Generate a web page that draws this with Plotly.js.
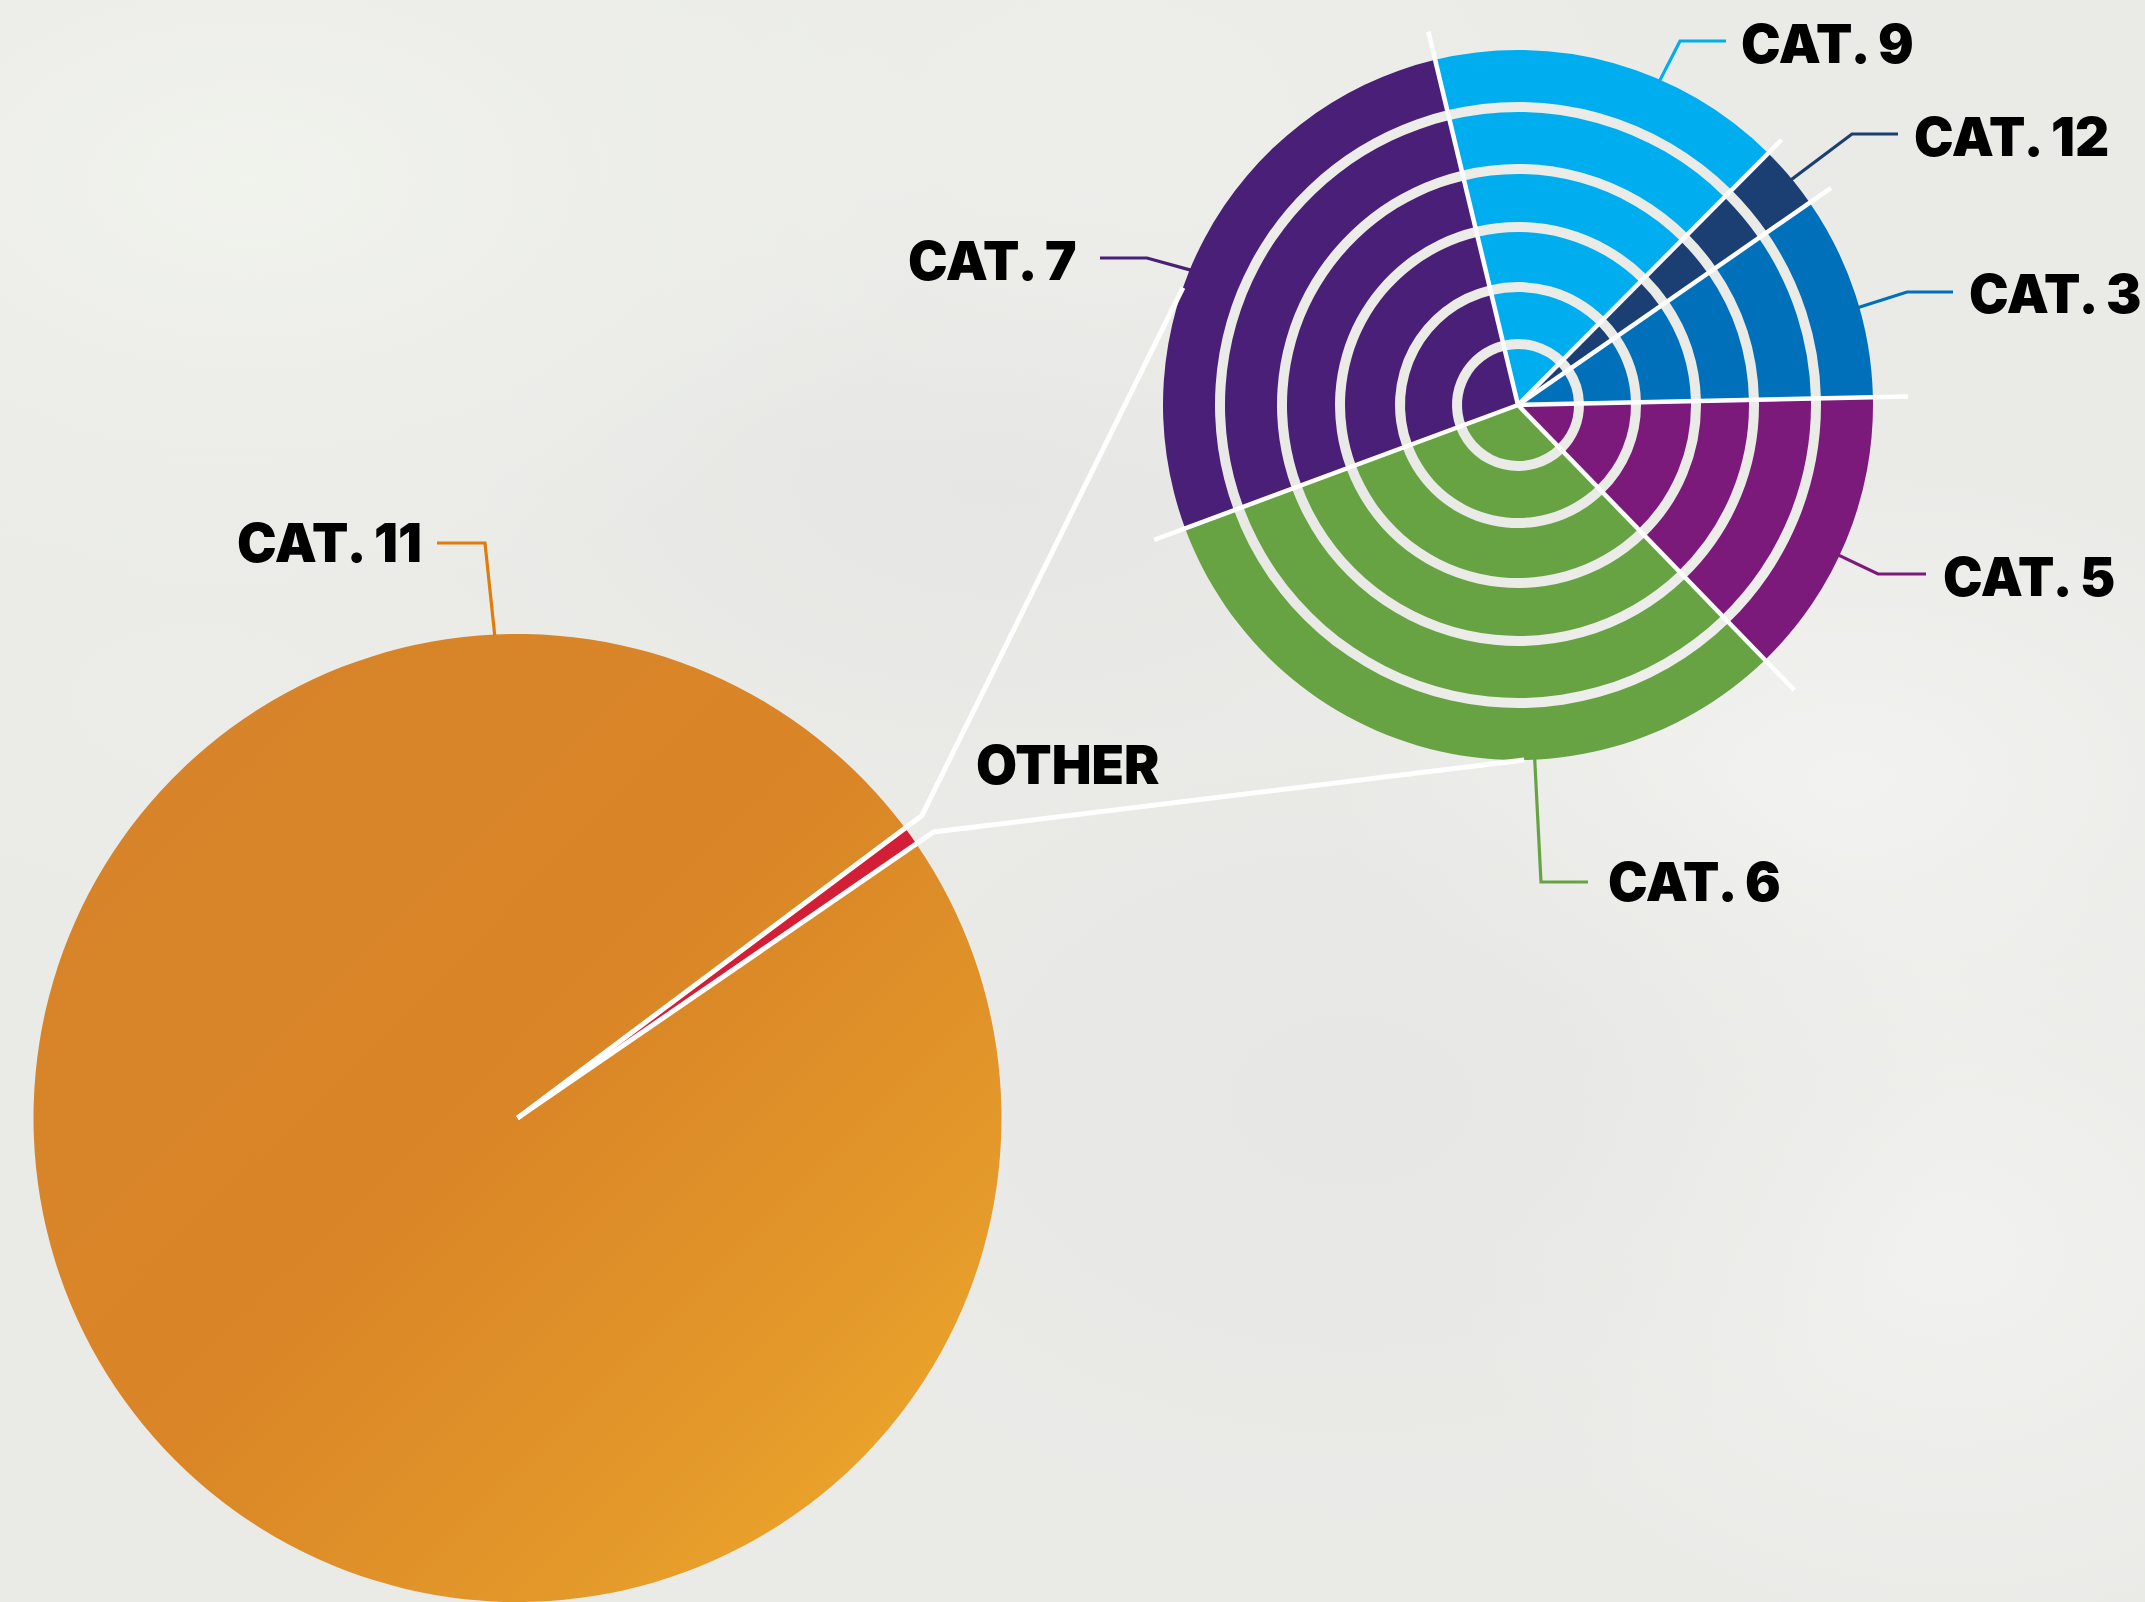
<!DOCTYPE html>
<html>
<head>
<meta charset="utf-8">
<script src="https://cdn.plot.ly/plotly-3.0.1.min.js"></script>
<style>
html,body{margin:0;padding:0;}
body{width:2145px;height:1602px;overflow:hidden;background:#EAEAE7;position:relative;}
#bg{position:absolute;left:0;top:0;width:2145px;height:1602px;background:
 radial-gradient(ellipse 700px 420px at 250px 180px, rgba(241,243,237,0.95), rgba(241,243,237,0) 100%),
 radial-gradient(ellipse 600px 380px at 1100px 120px, rgba(238,239,235,0.9), rgba(238,239,235,0) 100%),
 radial-gradient(ellipse 520px 300px at 1000px 480px, rgba(228,229,227,0.7), rgba(228,229,227,0) 100%),
 radial-gradient(ellipse 600px 420px at 1350px 1100px, rgba(230,230,229,0.8), rgba(230,230,229,0) 100%),
 radial-gradient(ellipse 500px 400px at 1950px 1250px, rgba(242,242,240,0.9), rgba(242,242,240,0) 100%),
 radial-gradient(ellipse 520px 320px at 1850px 780px, rgba(243,243,241,0.9), rgba(243,243,241,0) 100%),
 radial-gradient(ellipse 500px 300px at 200px 700px, rgba(236,237,233,0.8), rgba(236,237,233,0) 100%),
 #EAEAE7;}
#chart{position:absolute;left:0;top:0;width:2145px;height:1602px;}
</style>
</head>
<body>
<div id="bg"></div>
<div id="chart"></div>
<script>
const W = 2145, H = 1602;

// ---- data ----
const mainCategories = ['OTHER', 'CAT. 11'];
const mainValues = [0.64, 99.36];
const mainColors = ['#D21F35', '#DA8625'];

const otherCategories = ['CAT. 9', 'CAT. 12', 'CAT. 3', 'CAT. 5', 'CAT. 6', 'CAT. 7'];
const otherValues = [16.2, 2.9, 9.3, 13.1, 31.6, 26.9];
const otherColors = ['#00AEEF', '#1B3E73', '#0070BA', '#7B1A7A', '#67A342', '#4A1F77'];

// ---- geometry / style ----
const bigPie = {cx: 517.5, cy: 1118, r: 484, rotation: 53.2};
const ringPie = {cx: 1518, cy: 405, r: 355, rotation: -13.5,
  rings: [[355, 303], [293, 241], [231, 183], [173, 123], [113, 66], [56, 0]]};
const ringLineExt = [384, 374, 381, 390, 397, 388];

function dom(cx, cy, r) {
  const clamp = v => Math.max(0, Math.min(1, v));
  return {x: [clamp((cx - r) / W), clamp((cx + r) / W)],
          y: [clamp((H - cy - r) / H), clamp((H - cy + r) / H)]};
}
function angles(values, rot) {
  const tot = values.reduce((a, b) => a + b, 0);
  let c = 0;
  return values.map(v => {
    const a0 = rot + 360 * c / tot;
    c += v;
    return {start: a0, end: rot + 360 * c / tot};
  });
}
function pt(cx, cy, r, deg) {
  const t = deg * Math.PI / 180;
  return [cx + r * Math.sin(t), cy - r * Math.cos(t)];
}
function P(p) { return [p[0] / W, 1 - p[1] / H]; }
function pathShape(points, color, width) {
  const d = points.map((p, i) => {
    const q = P(p);
    return (i ? 'L' : 'M') + q[0].toFixed(6) + ',' + q[1].toFixed(6);
  }).join(' ');
  return {type: 'path', xref: 'paper', yref: 'paper', path: d,
          line: {color: color, width: width}, layer: 'above'};
}

const traces = [];
traces.push({
  type: 'pie', labels: mainCategories, values: mainValues, sort: false,
  direction: 'clockwise', rotation: bigPie.rotation,
  marker: {colors: mainColors, line: {width: 0}},
  textinfo: 'none', hoverinfo: 'skip', showlegend: false,
  domain: dom(bigPie.cx, bigPie.cy, bigPie.r)
});
ringPie.rings.forEach(([ro, ri]) => {
  traces.push({
    type: 'pie', labels: otherCategories, values: otherValues, sort: false,
    direction: 'clockwise', rotation: ringPie.rotation, hole: ri / ro,
    marker: {colors: otherColors, line: {width: 0}},
    textinfo: 'none', hoverinfo: 'skip', showlegend: false,
    domain: dom(ringPie.cx, ringPie.cy, ro)
  });
});

const shapes = [];
// radial white separators of the breakdown rings
const ringAng = angles(otherValues, ringPie.rotation);
ringAng.forEach((a, i) => {
  shapes.push(pathShape([[ringPie.cx, ringPie.cy], pt(ringPie.cx, ringPie.cy, ringLineExt[i], a.start)], '#FFFFFF', 4.5));
});
// white edges of OTHER slice + connectors
const bigAng = angles(mainValues, bigPie.rotation);
const oth = bigAng[0];
shapes.push(pathShape([[bigPie.cx, bigPie.cy], pt(bigPie.cx, bigPie.cy, 505, oth.start),
  pt(ringPie.cx, ringPie.cy, ringPie.r, 289.3)], '#FFFFFF', 5));
shapes.push(pathShape([[bigPie.cx, bigPie.cy], pt(bigPie.cx, bigPie.cy, 505, oth.end),
  pt(ringPie.cx, ringPie.cy, ringPie.r, 179)], '#FFFFFF', 5));

// leaders: anchor angle on the pie, elbow, end (pixels), label position
const leaders = [
  {cat: 'CAT. 11', pie: 'big', angle: 357.3, elbow: [485, 543], end: [437, 543], color: '#E07C0B', tx: 423, ty: 543, anchor: 'right'},
  {cat: 'CAT. 9',  pie: 'ring', angle: 23.6, elbow: [1680, 41], end: [1726, 41], color: '#00AEEF', tx: 1740, ty: 44, anchor: 'left'},
  {cat: 'CAT. 12', pie: 'ring', angle: 50.5, elbow: [1852, 134], end: [1898, 134], color: '#1B3E73', tx: 1913, ty: 137, anchor: 'left'},
  {cat: 'CAT. 3',  pie: 'ring', angle: 74.0, elbow: [1907, 292], end: [1953, 292], color: '#0070BA', tx: 1968, ty: 294, anchor: 'left'},
  {cat: 'CAT. 5',  pie: 'ring', angle: 115.1, elbow: [1878, 574], end: [1926, 574], color: '#7B1A7A', tx: 1942, ty: 577, anchor: 'left'},
  {cat: 'CAT. 6',  pie: 'ring', angle: 177.3, elbow: [1541, 882], end: [1588, 882], color: '#67A342', tx: 1607, ty: 882, anchor: 'left'},
  {cat: 'CAT. 7',  pie: 'ring', angle: 292.4, elbow: [1147, 258], end: [1100, 258], color: '#4A1F77', tx: 1078, ty: 261, anchor: 'right'}
];
const annotations = [];
const labelFont = {family: 'Inter, Lato, "DejaVu Sans", sans-serif', size: 53, color: '#000000', weight: 900};
leaders.forEach(l => {
  const p = l.pie === 'big' ? bigPie : ringPie;
  const start = pt(p.cx, p.cy, p.r - 1, l.angle);
  shapes.push(pathShape([start, l.elbow, l.end], l.color, 3.2));
  const q = P([l.tx, l.ty]);
  annotations.push({xref: 'paper', yref: 'paper', x: q[0], y: q[1], xanchor: l.anchor, yanchor: 'middle',
    text: l.cat, showarrow: false, font: labelFont, borderpad: 0});
});
const qo = P([975, 765]);
annotations.push({xref: 'paper', yref: 'paper', x: qo[0], y: qo[1], xanchor: 'left', yanchor: 'middle',
  text: mainCategories[0], showarrow: false, font: labelFont, borderpad: 0});

const layout = {
  width: W, height: H, margin: {l: 0, r: 0, t: 0, b: 0},
  paper_bgcolor: 'rgba(0,0,0,0)', plot_bgcolor: 'rgba(0,0,0,0)',
  showlegend: false, shapes: shapes, annotations: annotations
};

Plotly.newPlot('chart', traces, layout, {staticPlot: true, displayModeBar: false}).then(gd => {
  const svg = gd.querySelector('.main-svg');
  let defs = svg.querySelector('defs');
  if (!defs) { defs = document.createElementNS('http://www.w3.org/2000/svg', 'defs'); svg.insertBefore(defs, svg.firstChild); }
  const NS = 'http://www.w3.org/2000/svg';
  const grad = document.createElementNS(NS, 'linearGradient');
  grad.setAttribute('id', 'orangeGrad');
  grad.setAttribute('x1', '0'); grad.setAttribute('y1', '0');
  grad.setAttribute('x2', '1'); grad.setAttribute('y2', '1');
  [['0', '#D6822A'], ['0.5', '#DA8627'], ['0.78', '#E49A2A'], ['1', '#F3B02C']].forEach(([o, c]) => {
    const s = document.createElementNS(NS, 'stop');
    s.setAttribute('offset', o); s.setAttribute('stop-color', c);
    grad.appendChild(s);
  });
  defs.appendChild(grad);
  const firstTrace = gd.querySelectorAll('.pielayer .trace')[0];
  if (firstTrace) {
    const paths = firstTrace.querySelectorAll('.slice path.surface');
    if (paths[1]) paths[1].style.fill = 'url(#orangeGrad)';
  }
});
</script>
</body>
</html>
